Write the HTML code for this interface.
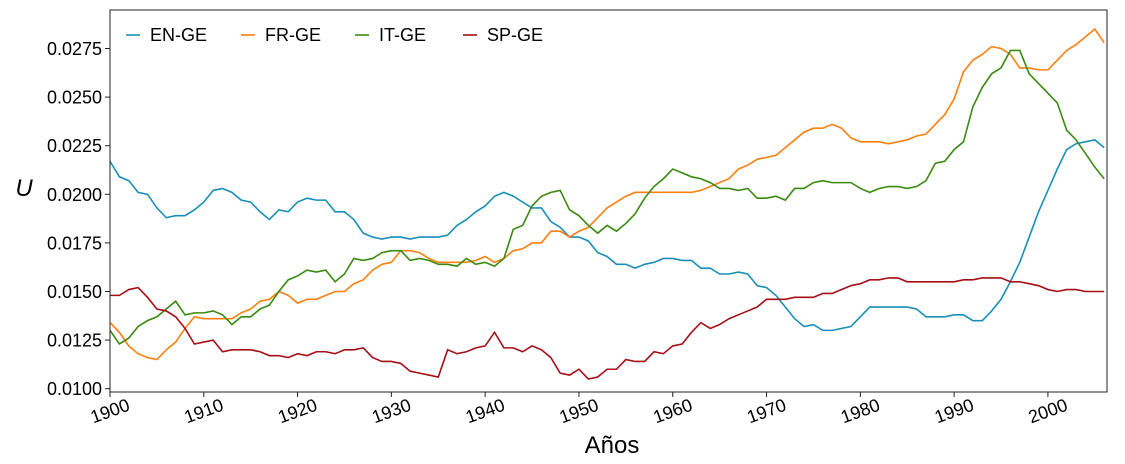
<!DOCTYPE html>
<html><head><meta charset="utf-8"><style>
html,body{margin:0;padding:0;background:#fff;}
svg{display:block;font-family:"Liberation Sans",sans-serif;}
</style></head><body>
<svg id="chart" width="1125" height="464" xmlns="http://www.w3.org/2000/svg"></svg>
<script>
const years = []; for (let y = 1900; y <= 2006; y++) years.push(y);
const enGE = [.0217,.0209,.0207,.0201,.0200,.0193,.0188,.0189,.0189,.0192,.0196,.0202,.0203,.0201,.0197,.0196,.0191,.0187,.0192,.0191,.0196,.0198,.0197,.0197,.0191,.0191,.0187,.0180,.0178,.0177,.0178,.0178,.0177,.0178,.0178,.0178,.0179,.0184,.0187,.0191,.0194,.0199,.0201,.0199,.0196,.0193,.0193,.0186,.0183,.0178,.0178,.0176,.0170,.0168,.0164,.0164,.0162,.0164,.0165,.0167,.0167,.0166,.0166,.0162,.0162,.0159,.0159,.0160,.0159,.0153,.0152,.0148,.0142,.0136,.0132,.0133,.0130,.0130,.0131,.0132,.0137,.0142,.0142,.0142,.0142,.0142,.0141,.0137,.0137,.0137,.0138,.0138,.0135,.0135,.0140,.0146,.0155,.0165,.0178,.0191,.0202,.0213,.0223,.0226,.0227,.0228,.0224];
const frGE = [.0134,.0129,.0122,.0118,.0116,.0115,.0120,.0124,.0131,.0137,.0136,.0136,.0136,.0136,.0139,.0141,.0145,.0146,.0150,.0148,.0144,.0146,.0146,.0148,.0150,.0150,.0154,.0156,.0161,.0164,.0165,.0171,.0171,.0170,.0167,.0165,.0165,.0165,.0165,.0166,.0168,.0165,.0167,.0171,.0172,.0175,.0175,.0181,.0181,.0178,.0181,.0183,.0188,.0193,.0196,.0199,.0201,.0201,.0201,.0201,.0201,.0201,.0201,.0202,.0204,.0206,.0208,.0213,.0215,.0218,.0219,.0220,.0224,.0228,.0232,.0234,.0234,.0236,.0234,.0229,.0227,.0227,.0227,.0226,.0227,.0228,.0230,.0231,.0236,.0241,.0249,.0263,.0269,.0272,.0276,.0275,.0272,.0265,.0265,.0264,.0264,.0269,.0274,.0277,.0281,.0285,.0278];
const itGE = [.0130,.0123,.0126,.0132,.0135,.0137,.0141,.0145,.0138,.0139,.0139,.0140,.0138,.0133,.0137,.0137,.0141,.0143,.0150,.0156,.0158,.0161,.0160,.0161,.0155,.0159,.0167,.0166,.0167,.0170,.0171,.0171,.0166,.0167,.0166,.0164,.0164,.0163,.0167,.0164,.0165,.0163,.0167,.0182,.0184,.0194,.0199,.0201,.0202,.0192,.0189,.0184,.0180,.0184,.0181,.0185,.0190,.0198,.0204,.0208,.0213,.0211,.0209,.0208,.0206,.0203,.0203,.0202,.0203,.0198,.0198,.0199,.0197,.0203,.0203,.0206,.0207,.0206,.0206,.0206,.0203,.0201,.0203,.0204,.0204,.0203,.0204,.0207,.0216,.0217,.0223,.0227,.0245,.0255,.0262,.0265,.0274,.0274,.0262,.0257,.0252,.0247,.0233,.0228,.0221,.0214,.0208];
const spGE = [.0148,.0148,.0151,.0152,.0147,.0141,.0140,.0137,.0131,.0123,.0124,.0125,.0119,.0120,.0120,.0120,.0119,.0117,.0117,.0116,.0118,.0117,.0119,.0119,.0118,.0120,.0120,.0121,.0116,.0114,.0114,.0113,.0109,.0108,.0107,.0106,.0120,.0118,.0119,.0121,.0122,.0129,.0121,.0121,.0119,.0122,.0120,.0116,.0108,.0107,.0110,.0105,.0106,.0110,.0110,.0115,.0114,.0114,.0119,.0118,.0122,.0123,.0129,.0134,.0131,.0133,.0136,.0138,.0140,.0142,.0146,.0146,.0146,.0147,.0147,.0147,.0149,.0149,.0151,.0153,.0154,.0156,.0156,.0157,.0157,.0155,.0155,.0155,.0155,.0155,.0155,.0156,.0156,.0157,.0157,.0157,.0155,.0155,.0154,.0153,.0151,.0150,.0151,.0151,.0150,.0150,.0150];
const xTicks = [1900,1910,1920,1930,1940,1950,1960,1970,1980,1990,2000];
const yTicks = [0.0100,0.0125,0.0150,0.0175,0.0200,0.0225,0.0250,0.0275];
const seriesNames = ["EN-GE","FR-GE","IT-GE","SP-GE"];

const L=110,R=1107,T=10,B=392;
const xMin=1900,xMax=2006.3,yMin=0.00983,yMax=0.02948;
const xs=v=>L+(v-xMin)/(xMax-xMin)*(R-L);
const ys=v=>B-(v-yMin)/(yMax-yMin)*(B-T);
const svg=document.getElementById('chart');
const NS='http://www.w3.org/2000/svg';
function mk(tag,attrs,parent){const e=document.createElementNS(NS,tag);for(const k in attrs)e.setAttribute(k,attrs[k]);(parent||svg).appendChild(e);return e;}

const colors=["#1a8fb8","#ff7f0e","#3a8a10","#a50f15"];
const data=[enGE,frGE,itGE,spGE];
const clip=mk('clipPath',{id:'pc'});mk('rect',{x:L,y:T,width:R-L,height:B-T},clip);
data.forEach((s,i)=>{
  const d=s.map((v,j)=>(j?'L':'M')+xs(years[j]).toFixed(2)+','+ys(v).toFixed(2)).join('');
  const p=mk('path',{d:d,fill:'none',stroke:colors[i],'stroke-width':1.6,'clip-path':'url(#pc)'});
  
  
});
const frame=mk('rect',{x:L,y:T,width:R-L,height:B-T,fill:'none',stroke:'#222','stroke-width':1});



xTicks.forEach(t=>{
  const x=xs(t);
  mk('line',{x1:x,x2:x,y1:B,y2:B+5,stroke:'#222'});
  const tx=mk('text',{x:x,y:B+25,'font-size':18,'text-anchor':'middle',transform:`rotate(-20 ${x} ${B+19})`,fill:'#000'});
  tx.textContent=t;
  
  
});
yTicks.forEach(t=>{
  const y=ys(t);
  mk('line',{x1:L-5,x2:L,y1:y,y2:y,stroke:'#222'});
  const tx=mk('text',{x:L-8,y:y+6.5,'font-size':18,'text-anchor':'end',fill:'#000'});
  tx.textContent=t.toFixed(4);
  
  
});
const xt=mk('text',{x:612,y:453,'font-size':24,'text-anchor':'middle',fill:'#000'});
xt.textContent='Años';


const yt=mk('text',{x:24,y:196,'font-size':24,'font-style':'italic','text-anchor':'middle',fill:'#000'});
yt.textContent='U';



const lx=[126,241,355,463];
seriesNames.forEach((n,i)=>{
  const g=mk('g',{});
  
  
  mk('line',{x1:lx[i],x2:lx[i]+14,y1:35,y2:35,stroke:colors[i],'stroke-width':1.6},g);
  const tx=mk('text',{x:lx[i]+24,y:41,'font-size':18,fill:'#000'},g);
  tx.textContent=n;
});
</script>
</body></html>
